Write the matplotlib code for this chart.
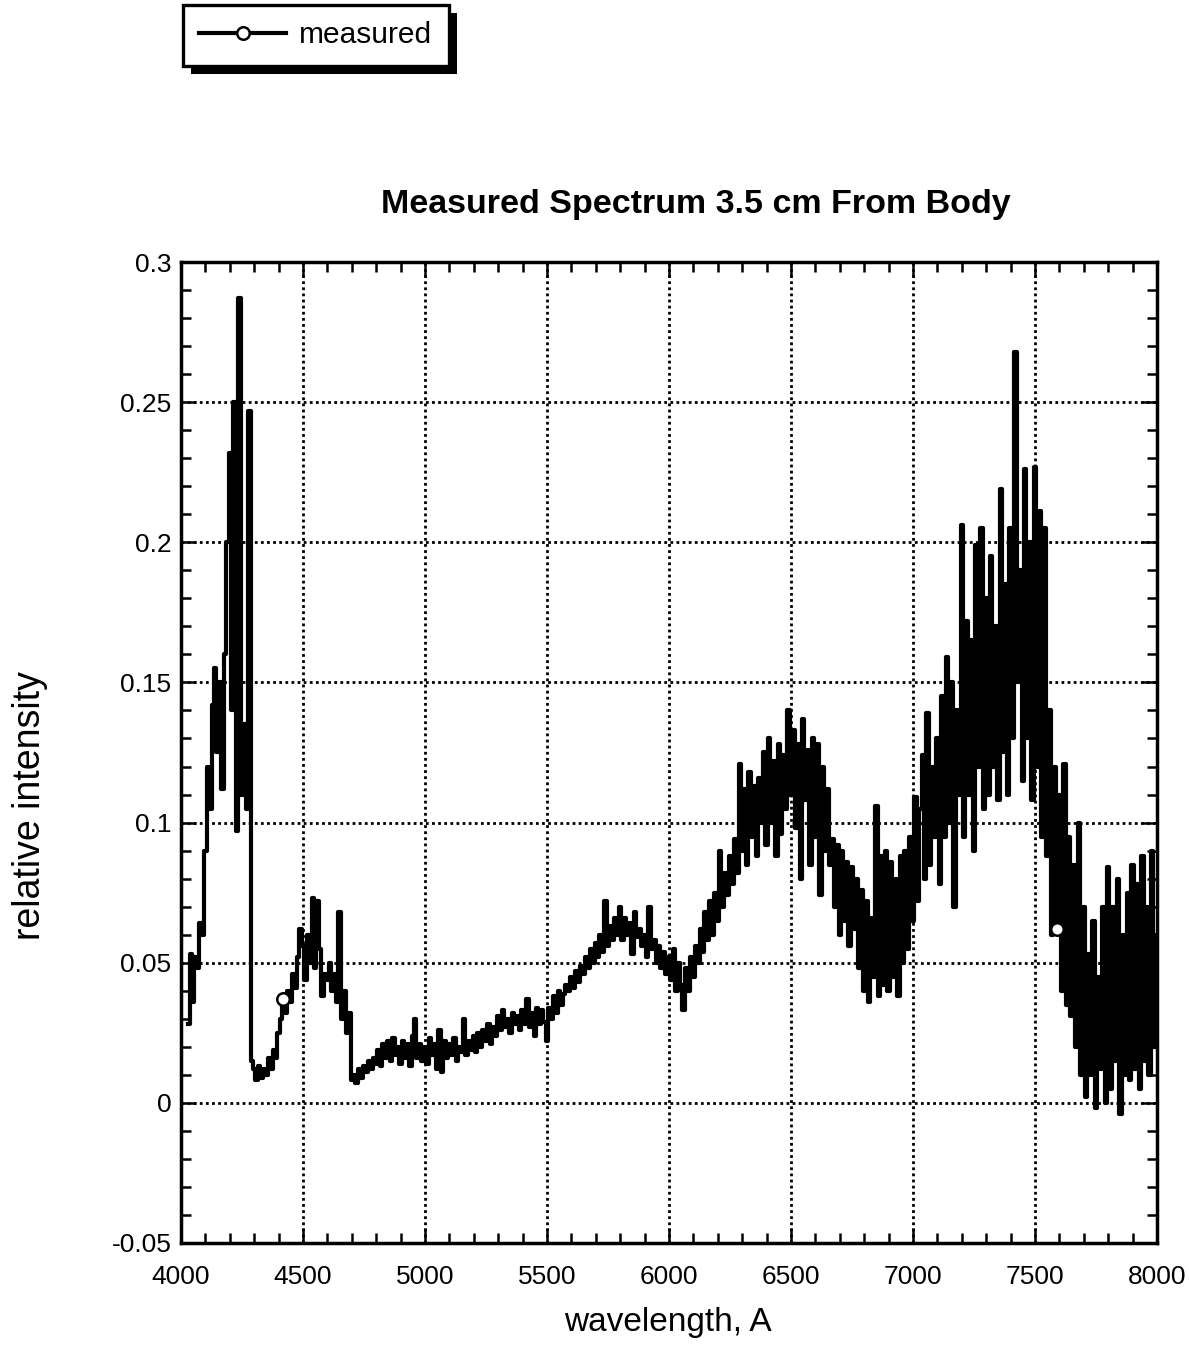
import numpy as np
import matplotlib
matplotlib.use("Agg")
import matplotlib.pyplot as plt
from matplotlib.patches import Rectangle
from matplotlib.ticker import MultipleLocator

plt.rcParams['font.family'] = ['Liberation Sans', 'DejaVu Sans']
plt.rcParams['axes.unicode_minus'] = False

# relative intensity, one value every 10 A starting at 4030 A
intensity = [
    0.028, 0.053, 0.036, 0.052, 0.048, 0.064, 0.060,                      # 4030-4090
    0.090, 0.120, 0.105, 0.142, 0.155, 0.125, 0.150, 0.112, 0.160, 0.200,  # 4100
    0.232, 0.140, 0.250, 0.097, 0.287, 0.110, 0.135, 0.105, 0.247, 0.015,  # 4200
    0.012, 0.008, 0.013, 0.009, 0.012, 0.010, 0.016, 0.012, 0.019, 0.016,  # 4300
    0.025, 0.030, 0.037, 0.032, 0.040, 0.036, 0.046, 0.041, 0.052, 0.062,  # 4400
    0.056, 0.044, 0.060, 0.050, 0.073, 0.048, 0.072, 0.055, 0.038, 0.046,  # 4500
    0.044, 0.050, 0.040, 0.046, 0.036, 0.068, 0.030, 0.040, 0.025, 0.032,  # 4600
    0.008, 0.010, 0.007, 0.012, 0.009, 0.013, 0.011, 0.015, 0.012, 0.016,  # 4700
    0.014, 0.019, 0.013, 0.021, 0.016, 0.022, 0.015, 0.023, 0.017, 0.020,  # 4800
    0.014, 0.022, 0.016, 0.021, 0.013, 0.024, 0.030, 0.016, 0.021, 0.015,  # 4900
    0.020, 0.014, 0.023, 0.017, 0.021, 0.012, 0.026, 0.011, 0.022, 0.016,  # 5000
    0.021, 0.017, 0.023, 0.015, 0.020, 0.018, 0.030, 0.017, 0.022, 0.019,  # 5100
    0.024, 0.018, 0.025, 0.020, 0.026, 0.022, 0.028, 0.021, 0.027, 0.024,  # 5200
    0.031, 0.026, 0.033, 0.027, 0.030, 0.025, 0.032, 0.028, 0.031, 0.026,  # 5300
    0.033, 0.028, 0.037, 0.027, 0.032, 0.024, 0.034, 0.028, 0.033, 0.029,  # 5400
    0.022, 0.034, 0.030, 0.038, 0.032, 0.040, 0.035, 0.039, 0.042, 0.040,  # 5500
    0.045, 0.041, 0.047, 0.043, 0.049, 0.046, 0.052, 0.048, 0.055, 0.050,  # 5600
    0.057, 0.052, 0.060, 0.054, 0.072, 0.056, 0.063, 0.058, 0.066, 0.060,  # 5700
    0.070, 0.058, 0.066, 0.060, 0.064, 0.053, 0.068, 0.059, 0.062, 0.056,  # 5800
    0.060, 0.052, 0.070, 0.055, 0.058, 0.050, 0.056, 0.048, 0.054, 0.046,  # 5900
    0.052, 0.044, 0.055, 0.040, 0.050, 0.042, 0.033, 0.048, 0.040, 0.052,  # 6000
    0.045, 0.056, 0.050, 0.062, 0.054, 0.068, 0.058, 0.072, 0.060, 0.075,  # 6100
    0.065, 0.090, 0.070, 0.082, 0.074, 0.088, 0.078, 0.094, 0.082, 0.121,  # 6200
    0.090, 0.112, 0.085, 0.118, 0.095, 0.113, 0.088, 0.116, 0.100, 0.125,  # 6300
    0.092, 0.130, 0.100, 0.122, 0.088, 0.128, 0.096, 0.124, 0.105, 0.140,  # 6400
    0.110, 0.133, 0.098, 0.128, 0.080, 0.137, 0.108, 0.126, 0.085, 0.130,  # 6500
    0.095, 0.128, 0.074, 0.120, 0.090, 0.112, 0.085, 0.094, 0.070, 0.092,  # 6600
    0.060, 0.090, 0.065, 0.086, 0.056, 0.084, 0.062, 0.080, 0.048, 0.076,  # 6700
    0.040, 0.072, 0.036, 0.066, 0.045, 0.106, 0.038, 0.088, 0.042, 0.090,  # 6800
    0.040, 0.086, 0.045, 0.080, 0.038, 0.088, 0.050, 0.090, 0.055, 0.095,  # 6900
    0.065, 0.109, 0.072, 0.105, 0.124, 0.080, 0.139, 0.085, 0.120, 0.095,  # 7000
    0.130, 0.078, 0.145, 0.095, 0.159, 0.100, 0.150, 0.070, 0.140, 0.110,  # 7100
    0.206, 0.095, 0.172, 0.110, 0.165, 0.090, 0.199, 0.120, 0.205, 0.105,  # 7200
    0.180, 0.110, 0.195, 0.120, 0.170, 0.108, 0.219, 0.125, 0.185, 0.110,  # 7300
    0.205, 0.130, 0.268, 0.150, 0.190, 0.115, 0.226, 0.130, 0.200, 0.108,  # 7400
    0.227, 0.120, 0.211, 0.095, 0.205, 0.088, 0.140, 0.060, 0.120, 0.062,  # 7500
    0.110, 0.040, 0.121, 0.035, 0.095, 0.031, 0.085, 0.020, 0.100, 0.010,  # 7600
    0.070, 0.002, 0.053, 0.010, 0.065, -0.002, 0.045, 0.012, 0.070, 0.000, # 7700
    0.084, 0.005, 0.070, 0.015, 0.080, -0.004, 0.060, 0.010, 0.075, 0.008, # 7800
    0.085, 0.012, 0.078, 0.005, 0.088, 0.015, 0.070, 0.010, 0.090, 0.020,  # 7900
    0.060,                                                                 # 8000
]
wavelength = 4030 + 10 * np.arange(len(intensity))
marker_idx = [39, 356]   # the two open circles visible on the trace

x_ticks = [4000, 4500, 5000, 5500, 6000, 6500, 7000, 7500, 8000]
y_ticks = [-0.05, 0, 0.05, 0.1, 0.15, 0.2, 0.25, 0.3]
y_labels = ['-0.05', '0', '0.05', '0.1', '0.15', '0.2', '0.25', '0.3']

W, H = 1189, 1368
fig = plt.figure(figsize=(W / 100, H / 100), dpi=100)
ax = fig.add_axes([181 / W, 1 - 1243 / H, (1157 - 181) / W, (1243 - 262) / H])

line, = ax.plot(wavelength, intensity, color='black', lw=3.0,
                drawstyle='steps-mid', marker='o', markevery=marker_idx,
                ms=9, mfc='white', mec='black', mew=1.8)

ax.set_xlim(4000, 8000)
ax.set_ylim(-0.05, 0.3)
ax.set_xticks(x_ticks)
ax.set_yticks(y_ticks)
ax.set_yticklabels(y_labels)
ax.xaxis.set_minor_locator(MultipleLocator(100))
ax.yaxis.set_minor_locator(MultipleLocator(0.01))
ax.tick_params(which='both', direction='in', top=True, right=True,
               labelsize=19, width=1.8, color='black')
ax.tick_params(axis='y', which='major', length=11, pad=7)
ax.tick_params(axis='x', which='major', length=11, pad=16)
ax.tick_params(which='minor', length=7)
for s in ax.spines.values():
    s.set_linewidth(2.5)
ax.grid(True, which='major', color='black', lw=2.0, linestyle=(0, (1, 1.2)))

fig.text(696 / W, 1 - 205 / H, 'Measured Spectrum 3.5 cm From Body',
         ha='center', va='center', fontsize=24.5, fontweight='bold')
fig.text(668 / W, 1 - 1323 / H, 'wavelength, A', ha='center', va='center', fontsize=24)
fig.text(30 / W, 1 - 806 / H, 'relative intensity', rotation=90,
         ha='center', va='center', fontsize=27)

leg = fig.legend([line], ['measured'], loc='upper left',
                 bbox_to_anchor=(183 / W, 1 - 5 / H), borderaxespad=0,
                 fontsize=21.5, fancybox=False, edgecolor='black', framealpha=1,
                 handlelength=2.9, handletextpad=0.45, borderpad=0.55)
leg.get_frame().set_linewidth(2.4)

# hard drop shadow under the legend box
fig.canvas.draw()
bb = leg.get_window_extent()
shadow = Rectangle(((bb.x0 + 8) / W, (bb.y0 - 8) / H), bb.width / W, bb.height / H,
                   transform=fig.transFigure, facecolor='black', edgecolor='none', zorder=4)
fig.patches.append(shadow)

fig.savefig('out.png', dpi=100)
